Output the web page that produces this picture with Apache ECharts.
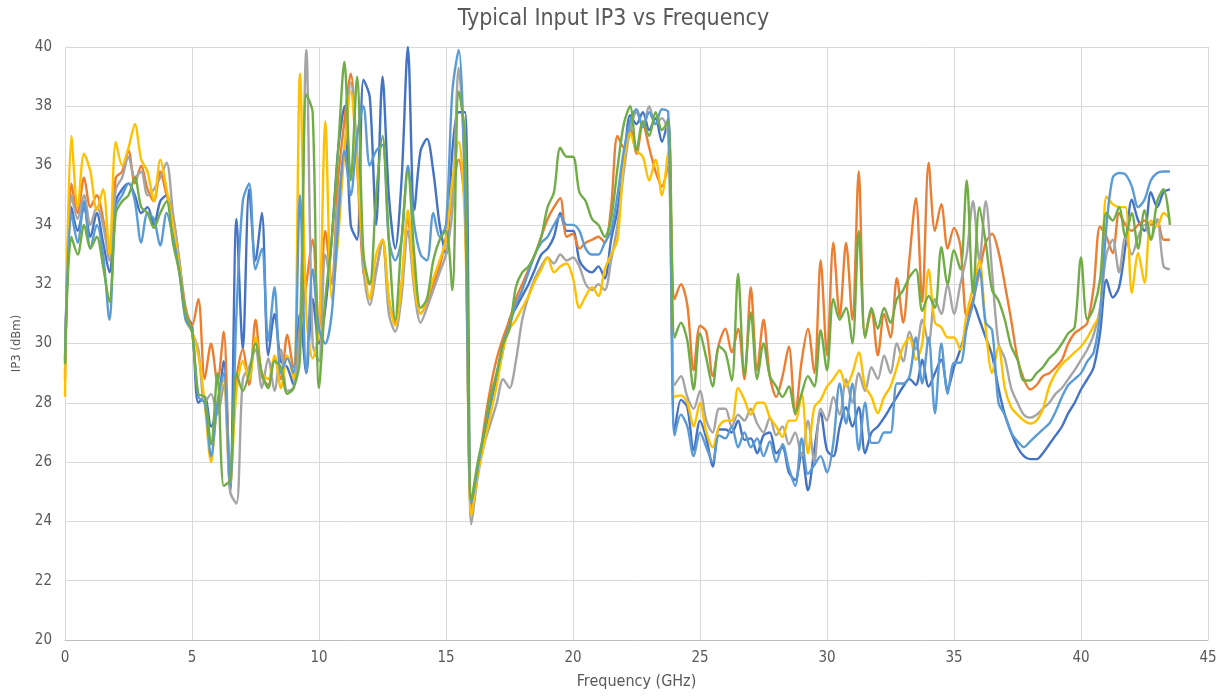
<!DOCTYPE html>
<html>
<head>
<meta charset="utf-8">
<script src="https://cdn.jsdelivr.net/npm/echarts@6/dist/echarts.min.js"></script>
<style>
  html, body { margin: 0; padding: 0; background: #fff; }
  #chart { width: 1227px; height: 696px; }
</style>
</head>
<body>
<div id="chart"></div>
<script>
const FREQ = [
  0, 0.25, 0.5, 0.75, 1, 1.25, 1.5, 1.75, 2, 2.25, 2.5, 2.75, 3, 3.25, 3.5, 3.75,
  4, 4.25, 4.5, 4.75, 5, 5.25, 5.5, 5.75, 6, 6.25, 6.5, 6.75, 7, 7.25, 7.5, 7.75,
  8, 8.25, 8.5, 8.75, 9, 9.25, 9.5, 9.75, 10, 10.25, 10.5, 10.75, 11, 11.25, 11.5, 11.75,
  12, 12.25, 12.5, 12.75, 13, 13.25, 13.5, 13.75, 14, 14.25, 14.5, 14.75, 15, 15.25, 15.5, 15.75,
  16, 16.25, 16.5, 16.75, 17, 17.25, 17.5, 17.75, 18, 18.25, 18.5, 18.75, 19, 19.25, 19.5, 19.75,
  20, 20.25, 20.5, 20.75, 21, 21.25, 21.5, 21.75, 22, 22.25, 22.5, 22.75, 23, 23.25, 23.5, 23.75,
  24, 24.25, 24.5, 24.75, 25, 25.25, 25.5, 25.75, 26, 26.25, 26.5, 26.75, 27, 27.25, 27.5, 27.75,
  28, 28.25, 28.5, 28.75, 29, 29.25, 29.5, 29.75, 30, 30.25, 30.5, 30.75, 31, 31.25, 31.5, 31.75,
  32, 32.25, 32.5, 32.75, 33, 33.25, 33.5, 33.75, 34, 34.25, 34.5, 34.75, 35, 35.25, 35.5, 35.75,
  36, 36.25, 36.5, 36.75, 37, 37.25, 37.5, 37.75, 38, 38.25, 38.5, 38.75, 39, 39.25, 39.5, 39.75,
  40, 40.25, 40.5, 40.75, 41, 41.25, 41.5, 41.75, 42, 42.25, 42.5, 42.75, 43, 43.25, 43.5
];

// one row per GHz (x.00, x.25, x.50, x.75)
const darkBlue = [
  29.5, 34.6, 33.8, 34.6,  33.6, 34.4, 33.4, 32.4,  34.8, 35.2, 35.4, 35.0,  34.4, 34.6, 34.0, 34.8,
  35.0, 34.0, 32.6, 31.0,  30.6, 28.0, 28.2, 27.2,  27.8, 29.4, 25.0, 34.2,  29.8, 35.2, 32.8, 34.4,
  29.6, 31.0, 29.4, 29.2,  28.6, 31.0, 29.0, 31.5,  30.0, 31.2, 33.5, 36.5,  38.0, 34.0, 33.5, 38.9,
  38.3, 34.0, 39.0, 35.0,  33.2, 35.5, 40.0, 34.5,  36.5, 36.9, 35.8, 34.0,  33.0, 36.5, 37.8, 37.8,
  24.5, 25.8, 26.8, 27.8,  28.8, 29.8, 30.8, 31.2,  31.6, 32.0, 32.5, 33.0,  33.2, 33.6, 34.4, 33.8,
  33.8, 32.8, 32.5, 32.4,  32.6, 32.2, 33.5, 34.5,  36.0, 37.7, 37.4, 37.8,  37.2, 37.6, 36.8, 37.6,
  27.0, 28.1, 27.85, 26.4,  27.4, 26.8, 25.85, 27.1,  27.1, 27.0, 27.4, 26.75,  26.8, 26.3, 26.9, 27.0,
  26.3, 26.5, 25.65, 25.4,  26.3, 25.05, 26.4, 27.65,  26.4, 26.2, 27.2, 27.85,  27.2, 27.85, 26.3, 27.0,
  27.2, 27.5, 27.85, 28.2,  28.55, 28.8, 28.6, 29.45,  28.55, 29.0, 29.45, 28.45,  29.2, 29.8, 30.55, 31.35,
  30.8, 30.2, 29.6, 28.5,  27.6, 27.0, 26.5, 26.2,  26.1, 26.1, 26.3, 26.6,  26.9, 27.2, 27.65, 28.0,
  28.45, 28.8, 29.2, 30.35,  32.15, 31.55, 31.9, 33.3,  34.85, 34.15, 33.8, 35.1,  34.6, 35.1, 35.2
];

const orange = [
  28.8, 35.4, 34.4, 35.6,  34.6, 35.0, 34.2, 33.0,  35.6, 35.8, 36.5, 35.4,  36.0, 35.2, 34.8, 35.8,
  35.0, 34.3, 32.8, 31.2,  30.6, 31.5, 28.8, 30.0,  28.7, 30.4, 25.5, 28.8,  29.8, 28.6, 30.8, 28.9,
  28.6, 29.5, 28.8, 30.3,  29.2, 30.5, 32.0, 33.5,  30.5, 33.8, 32.0, 35.5,  37.5, 39.1, 36.0, 32.4,
  32.0, 32.5, 33.5, 31.5,  30.7, 32.0, 34.2, 32.2,  31.0, 31.4, 32.0, 32.6,  33.6, 35.0, 36.2, 34.5,
  24.4, 25.6, 27.2, 28.5,  29.5, 30.2, 30.8, 31.5,  32.0, 32.5, 33.0, 33.6,  34.2, 34.6, 34.9, 33.6,
  33.7, 33.2, 33.4, 33.5,  33.6, 33.4, 34.6, 37.0,  36.6, 37.3, 36.4, 37.4,  36.6, 35.8, 35.3, 36.0,
  31.5, 32.0, 31.3, 29.1,  30.6, 30.4, 28.9, 30.0,  30.5, 29.7, 30.5, 28.8,  31.9, 29.1, 30.8, 28.9,
  28.2, 28.9, 29.9, 27.6,  29.4, 30.5, 29.0, 32.8,  29.6, 33.4, 30.9, 33.4,  30.8, 35.8, 30.2, 31.1,
  29.6, 31.0, 30.2, 32.2,  30.7, 32.9, 34.9, 31.4,  36.1, 33.8, 34.7, 33.2,  33.9, 33.3, 30.9, 31.5,
  32.4, 33.4, 33.7, 33.1,  32.0, 30.8, 29.5, 28.8,  28.45, 28.6, 28.9, 29.0,  29.2, 29.45, 30.0, 30.35,
  30.5, 30.7, 31.9, 33.95,  33.6, 33.05, 34.4, 34.0,  33.8, 34.0, 34.15, 34.0,  34.15, 33.5, 33.5
];

const gray = [
  29.0, 35.0, 34.2, 35.0,  34.0, 34.6, 34.0, 32.8,  35.2, 35.6, 36.3, 35.6,  35.8, 35.0, 35.2, 35.6,
  36.1, 34.4, 32.8, 31.0,  30.4, 29.8, 28.0, 28.3,  27.6, 28.6, 25.0, 24.6,  28.8, 29.2, 29.8, 28.5,
  29.5, 28.4, 29.8, 28.4,  28.5, 30.5, 39.9, 30.0,  29.4, 33.0, 32.0, 34.8,  36.5, 38.8, 36.5, 32.5,
  31.3, 32.4, 33.5, 31.0,  30.4, 31.6, 33.8, 31.8,  30.7, 31.2, 31.8, 32.4,  33.0, 34.5, 39.3, 35.5,
  23.9, 25.5, 26.6, 27.3,  28.0, 28.8, 28.5, 29.4,  30.8, 31.6, 32.2, 32.6,  32.9, 32.7, 33.0, 32.8,
  32.9, 32.6, 32.0, 31.8,  32.0, 31.8, 32.8, 34.0,  35.8, 37.2, 37.8, 37.3,  38.0, 37.4, 37.6, 37.0,
  28.6, 28.9, 28.2, 27.8,  28.4, 27.4, 27.0, 27.8,  27.8, 27.2, 27.6, 27.4,  27.8, 27.3, 27.0, 27.5,
  26.9, 27.2, 26.6, 27.0,  26.2, 27.4, 26.0, 27.8,  27.4, 28.2, 27.6, 28.8,  28.0, 29.0, 28.4, 29.2,
  28.8, 29.6, 29.0, 30.0,  29.4, 30.4, 29.8, 30.8,  30.0, 31.5, 31.0, 32.0,  31.0, 32.0, 33.0, 34.8,
  32.8, 34.8, 32.4, 30.0,  29.5, 28.5, 28.0, 27.6,  27.5, 27.6, 27.8, 28.0,  28.3, 28.5, 28.8, 29.1,
  29.45, 29.8, 30.3, 31.2,  33.0, 33.5, 32.4, 33.6,  33.0, 33.6, 34.0, 33.5,  34.2, 32.6, 32.5
];

const yellow = [
  28.2, 37.0, 34.6, 36.4,  35.8, 34.5, 35.2, 33.0,  36.8, 36.0, 36.6, 37.4,  36.2, 35.8, 34.8, 36.2,
  35.2, 34.0, 32.6, 30.8,  30.4, 29.6, 28.0, 26.0,  28.0, 28.8, 25.2, 28.4,  29.4, 28.8, 30.2, 29.0,
  28.8, 29.6, 28.5, 29.6,  28.8, 39.1, 31.0, 29.5,  30.5, 37.5, 31.5, 33.5,  36.5, 38.5, 36.0, 33.0,
  31.5, 33.0, 33.5, 31.5,  30.6, 32.0, 34.5, 32.0,  31.0, 31.5, 32.2, 32.8,  33.5, 35.5, 36.8, 34.0,
  24.2, 25.6, 26.6, 27.6,  28.6, 29.8, 30.5, 30.8,  31.2, 31.6, 32.1, 32.5,  32.9, 32.4, 32.6, 32.7,
  32.2, 31.2, 31.6, 31.9,  31.6, 32.5, 33.0, 33.5,  36.1, 37.1, 36.5, 36.3,  35.5, 36.2, 35.0, 36.5,
  28.2, 28.25, 28.0, 27.2,  28.0, 27.0, 26.5, 27.2,  27.4, 27.4, 28.5, 28.1,  27.6, 28.0, 28.0, 27.5,
  27.2, 26.85, 27.4, 27.4,  28.3, 26.3, 27.85, 28.1,  28.55, 28.8, 29.1, 28.55,  29.0, 29.7, 28.55, 28.2,
  27.65, 28.2, 28.55, 29.2,  29.9, 30.2, 29.45, 30.0,  32.5, 30.7, 30.55, 30.2,  30.2, 29.8, 31.0, 31.9,
  32.8, 30.5, 29.0, 29.9,  28.5, 27.85, 27.6, 27.4,  27.3, 27.4, 27.8, 28.55,  29.0, 29.3, 29.5, 29.7,
  29.9, 30.2, 30.6, 31.0,  34.95, 34.7, 34.6, 34.6,  31.7, 33.05, 32.05, 34.15,  33.95, 34.4, 34.2
];

const lightBlue = [
  29.4, 34.4, 33.4, 34.8,  33.2, 34.0, 33.0, 30.8,  34.6, 35.0, 35.4, 34.8,  33.4, 34.4, 34.2, 33.3,
  34.4, 33.6, 32.4, 30.8,  30.4, 28.2, 28.0, 26.2,  28.0, 29.0, 25.2, 31.0,  34.8, 35.4, 32.5, 33.2,
  30.1, 31.9, 29.0, 29.5,  29.0, 35.0, 29.0, 32.5,  30.5, 30.0, 31.0, 34.0,  36.5, 35.0, 37.0, 38.0,
  36.0, 36.5, 36.7, 33.5,  32.8, 33.5, 36.0, 34.0,  33.0, 32.8, 34.4, 33.6,  34.0, 38.5, 39.9, 35.0,
  24.6, 25.8, 27.0, 28.0,  29.0, 30.0, 30.6, 31.3,  31.8, 32.4, 33.0, 33.4,  33.6, 34.0, 34.3, 34.0,
  34.0, 33.8, 33.2, 33.0,  33.0, 33.4, 33.8, 35.0,  36.5, 37.5, 37.9, 37.3,  37.8, 37.4, 37.9, 37.8,
  26.9, 27.6, 27.2, 26.2,  27.0, 26.5, 26.0, 26.9,  26.8, 27.2, 26.5, 27.0,  26.5, 26.8, 26.2, 26.7,
  26.0, 26.6, 25.8, 25.2,  26.8, 25.6, 25.9, 26.2,  25.65, 26.65, 28.65, 27.3,  28.65, 26.4, 28.0, 26.65,
  26.65, 27.0, 27.0, 28.65,  28.65, 28.9, 30.2, 28.65,  30.2, 27.65, 30.0, 28.3,  29.35, 29.35, 30.55, 31.35,
  32.5, 30.7, 30.45, 28.0,  27.6, 27.0, 26.7, 26.5,  26.7, 26.9, 27.1, 27.3,  27.7, 28.2, 28.6, 28.8,
  29.0, 29.4, 29.7, 31.0,  33.95, 35.6, 35.75, 35.7,  35.3, 34.6, 34.85, 35.5,  35.75, 35.8, 35.8
];

const green = [
  29.3, 33.6, 33.0, 34.0,  33.2, 33.6, 32.6, 31.4,  34.4, 34.8, 35.0, 35.6,  34.6, 34.4, 33.9, 34.4,
  34.8, 33.4, 32.4, 31.0,  30.4, 28.3, 28.2, 26.6,  29.0, 25.2, 25.4, 29.0,  28.4, 29.0, 30.0, 29.0,
  28.5, 29.4, 29.2, 28.3,  28.5, 29.5, 38.4, 37.8,  28.5, 31.5, 33.5, 36.5,  39.5, 35.5, 39.0, 33.0,
  32.0, 35.0, 37.0, 33.5,  30.8, 33.5, 35.8, 33.0,  31.2, 31.5, 32.8, 33.5,  33.8, 31.8, 38.5, 37.0,
  24.7, 26.0, 27.0, 28.2,  29.0, 30.0, 30.5, 31.9,  32.4, 32.6, 33.0, 33.6,  34.6, 35.1, 36.6, 36.3,
  36.3, 35.1, 34.8, 34.2,  34.0, 33.6, 34.2, 35.9,  37.4, 38.0, 36.5, 37.5,  37.0, 37.8, 37.2, 37.5,
  30.2, 30.7, 30.1, 28.45,  30.35, 29.5, 28.55, 29.9,  29.7, 28.75, 32.35, 28.95,  31.05, 28.8, 30.0, 28.9,
  28.55, 28.2, 28.55, 27.65,  28.3, 28.9, 28.55, 30.45,  29.1, 31.5, 30.8, 31.2,  30.0, 33.8, 30.2, 31.2,
  30.5, 31.2, 30.7, 31.5,  31.8, 32.25, 32.5, 31.1,  31.6, 31.2, 33.25, 32.0,  33.15, 32.5, 35.5, 31.7,
  34.6, 33.4, 31.8, 31.45,  30.8, 29.9, 29.45, 28.75,  28.75, 29.0, 29.2, 29.5,  29.7, 30.0, 30.35, 30.55,
  32.9, 30.8, 31.2, 32.15,  34.4, 34.15, 34.6, 33.6,  34.4, 33.2, 34.5, 33.5,  34.8, 35.2, 34.0
];

const seriesList = [
  { name: "S1", color: "#4472C4", values: darkBlue },
  { name: "S2", color: "#ED7D31", values: orange },
  { name: "S3", color: "#A5A5A5", values: gray },
  { name: "S4", color: "#FFC000", values: yellow },
  { name: "S5", color: "#5B9BD5", values: lightBlue },
  { name: "S6", color: "#70AD47", values: green }
];

const textGray = "#595959";
const gridLine = "#d9d9d9";
const font = "Liberation Sans Narrow, DejaVu Sans Condensed, sans-serif";

const chart = echarts.init(document.getElementById("chart"));

chart.setOption({
  animation: false,
  backgroundColor: "#fff",
  title: {
    text: "Typical Input IP3 vs Frequency",
    left: "center",
    top: 3,
    textStyle: { fontFamily: font, fontSize: 23, fontWeight: "normal", color: textGray }
  },
  grid: { left: 65, right: 19, top: 47, bottom: 56 },
  xAxis: {
    type: "value",
    min: 0,
    max: 45,
    interval: 5,
    name: "Frequency (GHz)",
    nameLocation: "middle",
    nameGap: 34,
    nameTextStyle: { fontFamily: font, fontSize: 16, color: textGray },
    axisLine: { lineStyle: { color: "#bfbfbf" } },
    axisTick: { show: false },
    axisLabel: { fontFamily: font, fontSize: 15, color: textGray, margin: 11 },
    splitLine: { show: true, lineStyle: { color: gridLine } }
  },
  yAxis: {
    type: "value",
    min: 20,
    max: 40,
    interval: 2,
    name: "IP3 (dBm)",
    nameLocation: "middle",
    nameGap: 42,
    nameTextStyle: { fontFamily: font, fontSize: 13, color: textGray },
    axisLine: { show: true, lineStyle: { color: gridLine } },
    axisTick: { show: false },
    axisLabel: { fontFamily: font, fontSize: 15, color: textGray, margin: 13 },
    splitLine: { lineStyle: { color: gridLine } }
  },
  series: seriesList.map((s) => ({
    type: "line",
    name: s.name,
    data: FREQ.map((f, i) => [f, s.values[i]]),
    smooth: 0.3,
    symbol: "none",
    lineStyle: { width: 2.4, color: s.color },
    itemStyle: { color: s.color }
  }))
});
</script>
</body>
</html>
